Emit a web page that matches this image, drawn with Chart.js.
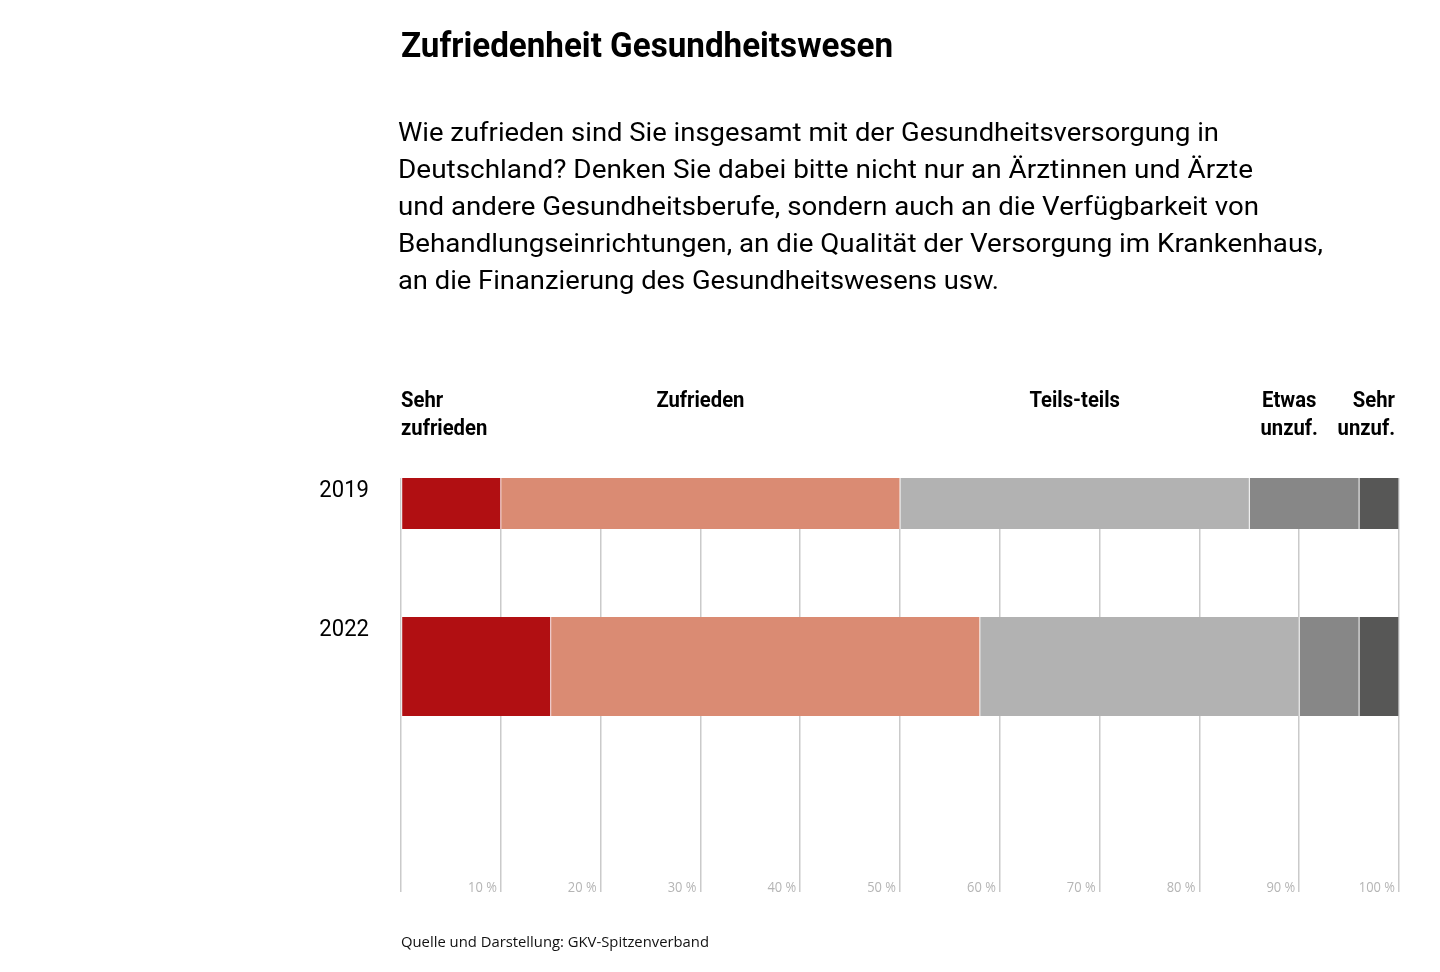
<!DOCTYPE html>
<html lang="de">
<head>
<meta charset="utf-8">
<title>Zufriedenheit Gesundheitswesen</title>
<script src="https://cdn.jsdelivr.net/npm/chart.js@4/dist/chart.umd.min.js"></script>
<style>
    html, body { margin: 0; padding: 0; background: #fff; }
    body {
        width: 1440px;
        height: 972px;
        position: relative;
        overflow: hidden;
        font-family: Roboto, sans-serif;
        color: #000;
    }
    .chart-box { position: absolute; left: 0; top: 0; width: 1440px; height: 972px; }
    .fit { display: inline-block; white-space: nowrap; transform-origin: 0 50%; }
    .title { position: absolute; left: 401px; top: 24px; font-weight: 700; font-size: 35px; line-height: 44px; }
    .subtitle { position: absolute; left: 398px; top: 114px; font-size: 26px; line-height: 37px; }
    .subtitle div { height: 37px; }
    .source { position: absolute; left: 401px; top: 932px; font-family: "Open Sans", sans-serif; font-size: 14px; line-height: 20px; color: #111; }
</style>
</head>
<body>
<div class="chart-box"><canvas id="satisfactionChart"></canvas></div>

<div class="title"><span class="fit" data-w="492">Zufriedenheit Gesundheitswesen</span></div>
<div class="subtitle">
    <div><span class="fit" data-w="821">Wie zufrieden sind Sie insgesamt mit der Gesundheitsversorgung in</span></div>
    <div><span class="fit" data-w="855">Deutschland? Denken Sie dabei bitte nicht nur an Ärztinnen und Ärzte</span></div>
    <div><span class="fit" data-w="861">und andere Gesundheitsberufe, sondern auch an die Verfügbarkeit von</span></div>
    <div><span class="fit" data-w="925">Behandlungseinrichtungen, an die Qualität der Versorgung im Krankenhaus,</span></div>
    <div><span class="fit" data-w="601">an die Finanzierung des Gesundheitswesens usw.</span></div>
</div>
<div class="source"><span class="fit" data-w="308">Quelle und Darstellung: GKV-Spitzenverband</span></div>

<script>
const years = ["2019", "2022"];
const categories = ["Sehr zufrieden", "Zufrieden", "Teils-teils", "Etwas unzuf.", "Sehr unzuf."];
const sehrZufrieden = [10, 15];
const zufrieden = [40, 43];
const teilsTeils = [35, 32];
const etwasUnzufrieden = [11, 6];
const sehrUnzufrieden = [4, 4];
const xTickValues = [10, 20, 30, 40, 50, 60, 70, 80, 90, 100];

// squeeze html text to the narrow look of the original
document.querySelectorAll(".fit").forEach(function (el) {
    const w = el.getBoundingClientRect().width;
    el.style.transform = "scaleX(" + (el.dataset.w / w) + ")";
});

const seriesValues = [sehrZufrieden, zufrieden, teilsTeils, etwasUnzufrieden, sehrUnzufrieden];
const colors = ["#b10f12", "#da8b73", "#b2b2b2", "#878787", "#575756"];
const thickness = [51, 99];

// header labels, split in lines
const headerLines = [["Sehr", "zufrieden"], ["Zufrieden"], ["Teils-teils"], ["Etwas", "unzuf."], ["Sehr", "unzuf."]];

const datasets = [];
years.forEach(function (year, yi) {
    categories.forEach(function (cat, ci) {
        datasets.push({
            label: cat + " " + year,
            data: [{ x: seriesValues[ci][yi], y: yi }],
            backgroundColor: colors[ci],
            borderColor: "#ffffff",
            borderWidth: { left: 0.8, right: 0.8, top: 0, bottom: 0 },
            borderSkipped: false,
            barThickness: thickness[yi],
        });
    });
});

function condensedText(ctx, text, x, y, squeeze) {
    const w = ctx.measureText(text).width;
    ctx.fillText(text, x, y, w * squeeze);
}

const labelsPlugin = {
    id: "labels",
    afterDraw: function (chart) {
        const ctx = chart.ctx;
        const xs = chart.scales.x;
        ctx.save();

        // category headers above the bars
        ctx.font = "bold 22px Roboto";
        ctx.fillStyle = "#000";
        ctx.textBaseline = "middle";
        let acc = 0;
        const mids = seriesValues.map(function (s) {
            const m = acc + s[0] / 2;
            acc += s[0];
            return m;
        });
        const anchors = [
            { x: xs.getPixelForValue(0), align: "left" },
            { x: xs.getPixelForValue(mids[1]), align: "center" },
            { x: xs.getPixelForValue(mids[2]), align: "center" },
            { x: xs.getPixelForValue(89), align: "center" },
            { x: xs.getPixelForValue(100) - 4, align: "right" },
        ];
        headerLines.forEach(function (lines, i) {
            ctx.textAlign = anchors[i].align;
            lines.forEach(function (line, li) {
                condensedText(ctx, line, anchors[i].x, 401 + li * 28, 0.92);
            });
        });

        // year labels next to the top of each bar
        ctx.font = "24px Roboto";
        ctx.textAlign = "right";
        years.forEach(function (year, yi) {
            const el = chart.getDatasetMeta(yi * categories.length).data[0];
            const top = el.y - el.height / 2;
            condensedText(ctx, year, 369, top + 13, 0.92);
        });

        // percent ticks inside the plot, bottom right of each grid line
        ctx.font = "15px 'Open Sans'";
        ctx.fillStyle = "#b5b5b5";
        ctx.textAlign = "right";
        xTickValues.forEach(function (v) {
            condensedText(ctx, v + " %", xs.getPixelForValue(v) - 4, chart.chartArea.bottom - 4, 0.86);
        });
        ctx.restore();
    },
};

new Chart(document.getElementById("satisfactionChart"), {
    type: "bar",
    data: { datasets: datasets },
    options: {
        indexAxis: "y",
        responsive: true,
        maintainAspectRatio: false,
        animation: false,
        layout: { padding: { left: 401, right: 41, top: 478, bottom: 80 } },
        scales: {
            x: {
                type: "linear",
                stacked: true,
                min: 0,
                max: 100,
                ticks: { display: false, stepSize: 10 },
                grid: { color: "#cacaca", lineWidth: 1.5, drawTicks: false },
                border: { display: false },
            },
            y: {
                type: "linear",
                stacked: true,
                display: false,
                offset: false,
                reverse: true,
                min: -0.156,
                max: 2.383,
            },
        },
        plugins: {
            legend: { display: false },
            tooltip: { enabled: false },
        },
    },
    plugins: [labelsPlugin],
});
</script>
</body>
</html>
